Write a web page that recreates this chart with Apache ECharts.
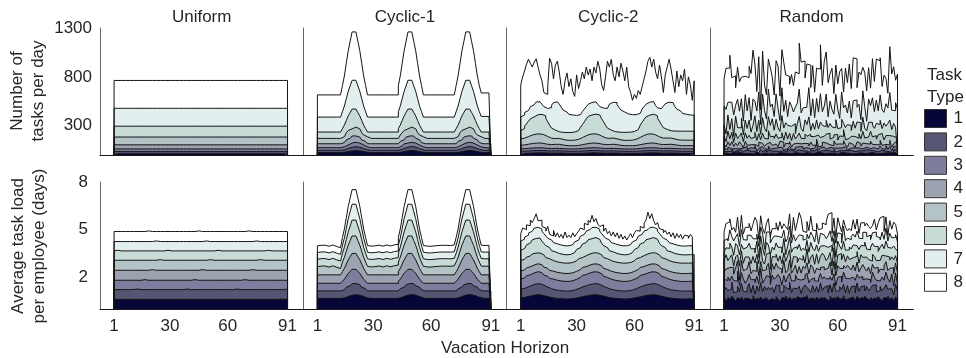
<!DOCTYPE html>
<html>
<head>
<meta charset="utf-8">
<title>Vacation horizon scenarios</title>
<script src="https://cdn.jsdelivr.net/npm/echarts@6/dist/echarts.min.js"></script>
<style>
  html, body { margin: 0; padding: 0; background: #fff; }
  #chart { width: 966px; height: 358px; }
</style>
</head>
<body>
<div id="chart"></div>
<script>
const scenarios = ['Uniform', 'Cyclic-1', 'Cyclic-2', 'Random'];
const taskTypes = ['1', '2', '3', '4', '5', '6', '7', '8'];
const typeColors = ['#060638', '#555674', '#7f7d9e', '#9ca2b0', '#b4c3c6', '#c8dbd7', '#e3eeee', '#ffffff'];
const dayTicks = [1, 30, 60, 91];
const taskTicks = [300, 800, 1300];
const loadTicks = [2, 5, 8];
const days = Array.from({ length: 91 }, (_, i) => i + 1);

// Uniform / Cyclic panels: level k = stacked height of task types 1..k, one value per day

const uniformTasks = [
  [12,12,12,12,12,12,12,12,12,12,12,12,12,
   12,12,12,12,12,12,12,12,12,12,12,12,12,
   12,12,12,12,12,12,12,12,12,12,12,12,12,
   12,12,12,12,12,12,12,12,12,12,12,12,12,
   12,12,12,12,12,12,12,12,12,12,12,12,12,
   12,12,12,12,12,12,12,12,12,12,12,12,12,
   12,12,12,12,12,12,12,12,12,12,12,12,12],
  [35,35,35,35,35,35,35,35,35,35,35,35,35,
   35,35,35,35,35,35,35,35,35,35,35,35,35,
   35,35,35,35,35,35,35,35,35,35,35,35,35,
   35,35,35,35,35,35,35,35,35,35,35,35,35,
   35,35,35,35,35,35,35,35,35,35,35,35,35,
   35,35,35,35,35,35,35,35,35,35,35,35,35,
   35,35,35,35,35,35,35,35,35,35,35,35,35],
  [62,62,62,62,62,62,62,62,62,62,62,62,62,
   62,62,62,62,62,62,62,62,62,62,62,62,62,
   62,62,62,62,62,62,62,62,62,62,62,62,62,
   62,62,62,62,62,62,62,62,62,62,62,62,62,
   62,62,62,62,62,62,62,62,62,62,62,62,62,
   62,62,62,62,62,62,62,62,62,62,62,62,62,
   62,62,62,62,62,62,62,62,62,62,62,62,62],
  [104,104,104,104,104,104,104,104,104,104,104,104,104,
   104,104,104,104,104,104,104,104,104,104,104,104,104,
   104,104,104,104,104,104,104,104,104,104,104,104,104,
   104,104,104,104,104,104,104,104,104,104,104,104,104,
   104,104,104,104,104,104,104,104,104,104,104,104,104,
   104,104,104,104,104,104,104,104,104,104,104,104,104,
   104,104,104,104,104,104,104,104,104,104,104,104,104],
  [184,184,184,184,184,184,184,184,184,184,184,184,184,
   184,184,184,184,184,184,184,184,184,184,184,184,184,
   184,184,184,184,184,184,184,184,184,184,184,184,184,
   184,184,184,184,184,184,184,184,184,184,184,184,184,
   184,184,184,184,184,184,184,184,184,184,184,184,184,
   184,184,184,184,184,184,184,184,184,184,184,184,184,
   184,184,184,184,184,184,184,184,184,184,184,184,184],
  [295,295,295,295,295,295,295,295,295,295,295,295,295,
   295,295,295,295,295,295,295,295,295,295,295,295,295,
   295,295,295,295,295,295,295,295,295,295,295,295,295,
   295,295,295,295,295,295,295,295,295,295,295,295,295,
   295,295,295,295,295,295,295,295,295,295,295,295,295,
   295,295,295,295,295,295,295,295,295,295,295,295,295,
   295,295,295,295,295,295,295,295,295,295,295,295,295],
  [478,478,478,478,478,478,478,478,478,478,478,478,478,
   478,478,478,478,478,478,478,478,478,478,478,478,478,
   478,478,478,478,478,478,478,478,478,478,478,478,478,
   478,478,478,478,478,478,478,478,478,478,478,478,478,
   478,478,478,478,478,478,478,478,478,478,478,478,478,
   478,478,478,478,478,478,478,478,478,478,478,478,478,
   478,478,478,478,478,478,478,478,478,478,478,478,478],
  [763,763,763,763,763,763,763,763,763,763,763,763,763,
   763,763,763,763,763,763,763,763,763,763,763,763,763,
   763,763,763,763,763,763,763,763,763,763,763,763,763,
   763,763,763,763,763,763,763,763,763,763,763,763,763,
   763,763,763,763,763,763,763,763,763,763,763,763,763,
   763,763,763,763,763,763,763,763,763,763,763,763,763,
   763,763,763,763,763,763,763,763,763,763,763,763,763]
];

const cyclic1Tasks = [
  [25,25,25,25,25,25,25,25,25,25,25,25,25,
   28,31,35,39,42,45,45,45,42,39,35,31,28,
   25,25,25,25,25,25,25,25,25,25,25,25,25,
   25,25,25,28,31,35,39,42,45,45,45,42,39,
   35,31,28,25,25,25,25,25,25,25,25,25,25,
   25,25,25,25,25,25,25,28,31,35,39,42,45,
   45,45,42,39,35,31,28,25,25,25,25,25,25],
  [48,48,48,48,48,48,48,48,48,48,48,48,48,
   54,59,67,74,79,85,85,85,79,74,67,59,54,
   48,48,48,48,48,48,48,48,48,48,48,48,48,
   48,48,48,54,59,67,74,79,85,85,85,79,74,
   67,59,54,48,48,48,48,48,48,48,48,48,48,
   48,48,48,48,48,48,48,54,59,67,74,79,85,
   85,85,79,74,67,59,54,48,48,48,48,48,48],
  [75,75,75,75,75,75,75,75,75,75,75,75,75,
   83,92,103,114,122,130,130,130,122,114,103,92,83,
   75,75,75,75,75,75,75,75,75,75,75,75,75,
   75,75,75,83,92,103,114,122,130,130,130,122,114,
   103,92,83,75,75,75,75,75,75,75,75,75,75,
   75,75,75,75,75,75,75,83,92,103,114,122,130,
   130,130,122,114,103,92,83,75,75,75,75,75,75],
  [115,115,115,115,115,115,115,115,115,115,115,115,115,
   127,139,155,171,183,195,195,195,183,171,155,139,127,
   115,115,115,115,115,115,115,115,115,115,115,115,115,
   115,115,115,127,139,155,171,183,195,195,195,183,171,
   155,139,127,115,115,115,115,115,115,115,115,115,115,
   115,115,115,115,115,115,115,127,139,155,171,183,195,
   195,195,183,171,155,139,127,115,115,115,115,115,115],
  [170,170,170,170,170,170,170,170,170,170,170,170,170,
   187,205,228,251,268,285,285,285,268,251,228,205,187,
   170,170,170,170,170,170,170,170,170,170,170,170,170,
   170,170,170,187,205,228,251,268,285,285,285,268,251,
   228,205,187,170,170,170,170,170,170,170,170,170,170,
   170,170,170,170,170,170,170,187,205,228,251,268,285,
   285,285,268,251,228,205,187,170,170,170,170,170,170],
  [235,235,235,235,235,235,235,235,235,235,235,235,235,
   270,306,353,400,435,470,470,470,435,400,353,306,270,
   235,235,235,235,235,235,235,235,235,235,235,235,235,
   235,235,235,270,306,353,400,435,470,470,470,435,400,
   353,306,270,235,235,235,235,235,235,235,235,235,235,
   235,235,235,235,235,235,235,270,306,353,400,435,470,
   470,470,435,400,353,306,270,235,235,235,235,235,235],
  [388,388,388,388,388,388,388,388,388,388,388,388,388,
   445,501,577,652,708,765,765,765,708,652,577,501,445,
   388,388,388,388,388,388,388,388,388,388,388,388,388,
   388,388,388,445,501,577,652,708,765,765,765,708,652,
   577,501,445,388,388,388,388,388,388,388,388,388,388,
   388,388,388,388,388,388,388,445,501,577,652,708,765,
   765,765,708,652,577,501,445,395,395,395,395,395,395],
  [615,615,615,615,615,615,615,615,615,615,615,615,615,
   712,809,938,1067,1163,1260,1260,1260,1163,1067,938,809,712,
   615,615,615,615,615,615,615,615,615,615,615,615,615,
   615,615,615,712,809,938,1067,1163,1260,1260,1260,1163,1067,
   938,809,712,615,615,615,615,615,615,615,615,615,615,
   615,615,615,615,615,615,615,712,809,938,1067,1163,1260,
   1260,1260,1163,1067,938,809,712,635,635,635,635,635,635]
];

const cyclic2Tasks = [
  [17,17,18,18,19,20,20,21,21,22,22,21,21,
   20,19,19,19,19,20,20,19,19,18,17,17,16,
   16,16,16,17,17,18,19,19,20,21,21,22,22,
   21,21,20,19,19,19,19,20,20,19,19,18,17,
   17,16,16,16,16,16,16,17,17,18,19,19,20,
   21,21,22,22,21,21,20,19,19,19,19,20,20,
   19,19,18,18,17,17,16,16,16,16,16,16,16],
  [40,40,41,42,43,44,45,45,46,46,46,45,44,
   43,42,42,42,43,43,43,42,41,40,39,38,38,
   38,38,38,39,40,41,42,43,44,45,46,46,46,
   45,44,43,42,42,42,42,43,43,42,41,40,39,
   39,38,38,38,38,38,38,39,40,41,42,43,44,
   45,46,46,46,45,44,43,42,42,42,43,43,43,
   42,41,40,39,39,38,38,38,38,38,38,38,38],
  [64,65,67,68,70,71,72,73,74,74,73,72,70,
   68,67,66,67,68,68,67,66,65,64,63,62,62,
   62,62,63,64,65,67,69,71,72,73,74,74,74,
   73,71,69,68,67,67,67,68,68,67,66,64,63,
   63,62,62,62,62,62,63,64,65,67,69,71,72,
   73,74,74,74,73,71,69,68,67,67,68,68,68,
   67,66,65,64,63,63,63,63,63,63,63,63,63],
  [100,103,107,110,114,117,120,122,123,123,121,118,114,
   110,107,106,107,109,110,109,106,102,99,97,96,95,
   95,95,96,98,101,105,109,113,117,120,122,123,122,
   120,116,112,109,107,106,107,109,110,109,106,102,99,
   97,96,95,95,95,95,96,98,101,105,109,113,117,
   120,122,123,122,119,115,111,108,107,107,108,110,110,
   108,105,102,99,97,96,96,96,96,96,96,96,96],
  [165,172,180,188,196,204,210,214,216,216,214,208,200,
   190,180,172,168,168,170,170,166,160,155,152,150,150,
   150,152,155,160,168,178,188,198,206,212,216,217,216,
   212,204,194,184,176,172,170,172,174,172,166,160,155,
   152,150,150,150,150,152,156,162,170,180,190,200,208,
   214,217,217,214,206,196,186,178,173,172,174,176,174,
   170,164,158,155,153,152,152,152,152,152,152,152,152],
  [250,270,295,320,345,370,390,405,412,416,416,412,400,
   375,340,305,275,255,245,238,234,232,232,230,230,230,
   232,235,240,250,265,285,310,340,370,395,410,416,418,
   416,410,395,370,340,305,275,255,245,240,236,234,232,
   232,232,232,232,234,236,240,248,260,280,305,335,365,
   390,408,416,418,414,400,375,345,310,280,262,252,248,
   246,245,244,244,244,244,244,244,244,244,244,244,244],
  [390,410,435,455,475,495,515,530,543,545,540,520,495,
   477,473,485,510,535,545,540,520,490,460,440,425,415,
   410,407,405,407,413,425,445,470,495,520,537,545,545,
   540,520,495,480,475,477,495,520,540,545,537,515,485,
   460,440,427,420,415,413,411,413,417,427,445,470,495,
   520,540,550,547,530,505,483,475,480,500,525,540,543,
   537,520,495,470,450,435,425,417,413,410,408,407,407],
  [720,800,860,930,980,940,900,950,985,900,820,760,640,
   620,700,990,940,780,920,960,850,700,620,760,840,700,
   780,650,600,820,680,760,850,780,900,820,880,760,900,
   840,960,880,720,660,800,960,900,980,820,760,900,800,
   940,860,760,900,700,640,560,620,580,660,620,700,780,
   860,960,1000,900,980,850,780,920,800,640,820,900,980,
   880,760,640,860,700,820,760,880,620,800,720,560,760]
];

const uniformLoad = [
  [0.61,0.61,0.61,0.61,0.61,0.61,0.61,0.61,0.61,0.61,0.61,0.61,0.61,
   0.61,0.61,0.61,0.61,0.61,0.61,0.61,0.61,0.61,0.61,0.61,0.61,0.61,
   0.61,0.61,0.61,0.61,0.61,0.61,0.61,0.61,0.61,0.61,0.61,0.61,0.61,
   0.61,0.61,0.61,0.61,0.61,0.61,0.61,0.61,0.61,0.61,0.61,0.61,0.61,
   0.61,0.61,0.61,0.61,0.61,0.61,0.61,0.61,0.61,0.61,0.61,0.61,0.61,
   0.61,0.61,0.61,0.61,0.61,0.61,0.61,0.61,0.61,0.61,0.61,0.61,0.61,
   0.61,0.61,0.61,0.61,0.61,0.61,0.61,0.61,0.61,0.61,0.61,0.61,0.61],
  [1.22,1.22,1.22,1.22,1.22,1.22,1.22,1.22,1.22,1.22,1.22,1.26,1.22,
   1.22,1.22,1.22,1.22,1.22,1.22,1.22,1.22,1.22,1.22,1.22,1.26,1.22,
   1.22,1.22,1.22,1.22,1.22,1.22,1.22,1.22,1.22,1.22,1.22,1.26,1.22,
   1.22,1.22,1.22,1.22,1.22,1.22,1.22,1.22,1.22,1.22,1.22,1.26,1.22,
   1.22,1.22,1.22,1.22,1.22,1.22,1.22,1.22,1.22,1.22,1.22,1.26,1.22,
   1.22,1.22,1.22,1.22,1.22,1.22,1.22,1.22,1.22,1.22,1.22,1.26,1.22,
   1.22,1.22,1.22,1.22,1.22,1.22,1.22,1.22,1.22,1.22,1.22,1.26,1.22],
  [1.81,1.81,1.85,1.81,1.81,1.81,1.81,1.81,1.81,1.81,1.81,1.81,1.81,
   1.81,1.81,1.85,1.81,1.81,1.81,1.81,1.81,1.81,1.81,1.81,1.81,1.81,
   1.81,1.81,1.85,1.81,1.81,1.81,1.81,1.81,1.81,1.81,1.81,1.81,1.81,
   1.81,1.81,1.85,1.81,1.81,1.81,1.81,1.81,1.81,1.81,1.81,1.81,1.81,
   1.81,1.81,1.85,1.81,1.81,1.81,1.81,1.81,1.81,1.81,1.81,1.81,1.81,
   1.81,1.81,1.85,1.81,1.81,1.81,1.81,1.81,1.81,1.81,1.81,1.81,1.81,
   1.81,1.81,1.85,1.81,1.81,1.81,1.81,1.81,1.81,1.81,1.81,1.81,1.81],
  [2.44,2.44,2.44,2.44,2.44,2.44,2.48,2.44,2.44,2.44,2.44,2.44,2.44,
   2.44,2.44,2.44,2.44,2.44,2.44,2.48,2.44,2.44,2.44,2.44,2.44,2.44,
   2.44,2.44,2.44,2.44,2.44,2.44,2.48,2.44,2.44,2.44,2.44,2.44,2.44,
   2.44,2.44,2.44,2.44,2.44,2.44,2.48,2.44,2.44,2.44,2.44,2.44,2.44,
   2.44,2.44,2.44,2.44,2.44,2.44,2.48,2.44,2.44,2.44,2.44,2.44,2.44,
   2.44,2.44,2.44,2.44,2.44,2.44,2.48,2.44,2.44,2.44,2.44,2.44,2.44,
   2.44,2.44,2.44,2.44,2.44,2.44,2.48,2.44,2.44,2.44,2.44,2.44,2.44],
  [3.07,3.07,3.07,3.07,3.07,3.07,3.07,3.07,3.07,3.07,3.11,3.07,3.07,
   3.07,3.07,3.07,3.07,3.07,3.07,3.07,3.07,3.07,3.07,3.11,3.07,3.07,
   3.07,3.07,3.07,3.07,3.07,3.07,3.07,3.07,3.07,3.07,3.11,3.07,3.07,
   3.07,3.07,3.07,3.07,3.07,3.07,3.07,3.07,3.07,3.07,3.11,3.07,3.07,
   3.07,3.07,3.07,3.07,3.07,3.07,3.07,3.07,3.07,3.07,3.11,3.07,3.07,
   3.07,3.07,3.07,3.07,3.07,3.07,3.07,3.07,3.07,3.07,3.11,3.07,3.07,
   3.07,3.07,3.07,3.07,3.07,3.07,3.07,3.07,3.07,3.07,3.11,3.07,3.07],
  [3.66,3.70,3.66,3.66,3.66,3.66,3.66,3.66,3.66,3.66,3.66,3.66,3.66,
   3.66,3.70,3.66,3.66,3.66,3.66,3.66,3.66,3.66,3.66,3.66,3.66,3.66,
   3.66,3.70,3.66,3.66,3.66,3.66,3.66,3.66,3.66,3.66,3.66,3.66,3.66,
   3.66,3.70,3.66,3.66,3.66,3.66,3.66,3.66,3.66,3.66,3.66,3.66,3.66,
   3.66,3.70,3.66,3.66,3.66,3.66,3.66,3.66,3.66,3.66,3.66,3.66,3.66,
   3.66,3.70,3.66,3.66,3.66,3.66,3.66,3.66,3.66,3.66,3.66,3.66,3.66,
   3.66,3.70,3.66,3.66,3.66,3.66,3.66,3.66,3.66,3.66,3.66,3.66,3.66],
  [4.25,4.25,4.25,4.25,4.25,4.25,4.25,4.25,4.29,4.25,4.25,4.25,4.25,
   4.25,4.25,4.25,4.25,4.25,4.25,4.25,4.25,4.29,4.25,4.25,4.25,4.25,
   4.25,4.25,4.25,4.25,4.25,4.25,4.25,4.25,4.29,4.25,4.25,4.25,4.25,
   4.25,4.25,4.25,4.25,4.25,4.25,4.25,4.25,4.29,4.25,4.25,4.25,4.25,
   4.25,4.25,4.25,4.25,4.25,4.25,4.25,4.25,4.29,4.25,4.25,4.25,4.25,
   4.25,4.25,4.25,4.25,4.25,4.25,4.25,4.25,4.29,4.25,4.25,4.25,4.25,
   4.25,4.25,4.25,4.25,4.25,4.25,4.25,4.25,4.29,4.25,4.25,4.25,4.25],
  [4.88,4.88,4.88,4.88,4.92,4.88,4.88,4.88,4.88,4.88,4.88,4.88,4.88,
   4.88,4.88,4.88,4.88,4.92,4.88,4.88,4.88,4.88,4.88,4.88,4.88,4.88,
   4.88,4.88,4.88,4.88,4.92,4.88,4.88,4.88,4.88,4.88,4.88,4.88,4.88,
   4.88,4.88,4.88,4.88,4.92,4.88,4.88,4.88,4.88,4.88,4.88,4.88,4.88,
   4.88,4.88,4.88,4.88,4.92,4.88,4.88,4.88,4.88,4.88,4.88,4.88,4.88,
   4.88,4.88,4.88,4.88,4.92,4.88,4.88,4.88,4.88,4.88,4.88,4.88,4.88,
   4.88,4.88,4.88,4.88,4.92,4.88,4.88,4.88,4.88,4.88,4.88,4.88,4.88]
];

const cyclic1Load = [
  [0.67,0.67,0.67,0.67,0.67,0.67,0.67,0.67,0.67,0.67,0.67,0.67,0.67,
   0.70,0.74,0.79,0.83,0.87,0.90,0.90,0.90,0.87,0.83,0.79,0.74,0.70,
   0.67,0.67,0.67,0.67,0.67,0.67,0.67,0.67,0.67,0.67,0.67,0.67,0.67,
   0.67,0.67,0.67,0.70,0.74,0.79,0.83,0.87,0.90,0.90,0.90,0.87,0.83,
   0.79,0.74,0.70,0.67,0.67,0.67,0.67,0.67,0.67,0.67,0.67,0.67,0.67,
   0.67,0.67,0.67,0.67,0.67,0.67,0.67,0.70,0.74,0.79,0.83,0.87,0.90,
   0.90,0.90,0.87,0.83,0.79,0.74,0.70,0.67,0.67,0.67,0.67,0.67,0.67],
  [1.14,1.14,1.14,1.14,1.14,1.14,1.14,1.14,1.14,1.14,1.14,1.14,1.14,
   1.21,1.28,1.37,1.46,1.53,1.60,1.60,1.60,1.53,1.46,1.37,1.28,1.21,
   1.14,1.14,1.14,1.14,1.14,1.14,1.14,1.14,1.14,1.14,1.14,1.14,1.14,
   1.14,1.14,1.14,1.21,1.28,1.37,1.46,1.53,1.60,1.60,1.60,1.53,1.46,
   1.37,1.28,1.21,1.14,1.14,1.14,1.14,1.14,1.14,1.14,1.14,1.14,1.14,
   1.14,1.14,1.14,1.14,1.14,1.14,1.14,1.21,1.28,1.37,1.46,1.53,1.60,
   1.60,1.60,1.53,1.46,1.37,1.28,1.21,1.14,1.14,1.14,1.14,1.14,1.14],
  [1.62,1.62,1.62,1.62,1.62,1.62,1.62,1.62,1.62,1.62,1.62,1.62,1.62,
   1.75,1.88,2.06,2.24,2.37,2.50,2.50,2.50,2.37,2.24,2.06,1.88,1.75,
   1.62,1.62,1.62,1.62,1.62,1.62,1.62,1.62,1.62,1.62,1.62,1.62,1.62,
   1.62,1.62,1.62,1.75,1.88,2.06,2.24,2.37,2.50,2.50,2.50,2.37,2.24,
   2.06,1.88,1.75,1.62,1.62,1.62,1.62,1.62,1.62,1.62,1.62,1.62,1.62,
   1.62,1.62,1.62,1.62,1.62,1.62,1.62,1.75,1.88,2.06,2.24,2.37,2.50,
   2.50,2.50,2.37,2.24,2.06,1.88,1.75,1.62,1.62,1.62,1.62,1.62,1.62],
  [2.15,2.15,2.15,2.15,2.15,2.15,2.15,2.15,2.15,2.15,2.15,2.15,2.15,
   2.35,2.56,2.83,3.10,3.30,3.50,3.50,3.50,3.30,3.10,2.83,2.56,2.35,
   2.15,2.15,2.15,2.15,2.15,2.15,2.15,2.15,2.15,2.15,2.15,2.15,2.15,
   2.15,2.15,2.15,2.35,2.56,2.83,3.10,3.30,3.50,3.50,3.50,3.30,3.10,
   2.83,2.56,2.35,2.15,2.15,2.15,2.15,2.15,2.15,2.15,2.15,2.15,2.15,
   2.15,2.15,2.15,2.15,2.15,2.15,2.15,2.35,2.56,2.83,3.10,3.30,3.50,
   3.50,3.50,3.30,3.10,2.83,2.56,2.35,2.15,2.15,2.15,2.15,2.15,2.15],
  [2.67,2.70,2.65,2.71,2.67,2.64,2.69,2.72,2.67,2.63,2.55,2.55,2.59,
   2.96,3.25,3.64,4.02,4.31,4.60,4.60,4.60,4.31,4.02,3.64,3.25,2.96,
   2.69,2.65,2.70,2.67,2.64,2.71,2.68,2.65,2.70,2.72,2.69,2.66,2.71,
   2.73,2.75,2.77,2.96,3.25,3.64,4.02,4.31,4.60,4.60,4.60,4.31,4.02,
   3.64,3.25,2.96,2.69,2.65,2.68,2.64,2.70,2.67,2.65,2.69,2.66,2.70,
   2.67,2.70,2.65,2.69,2.71,2.72,2.73,2.96,3.25,3.64,4.02,4.31,4.60,
   4.60,4.60,4.31,4.02,3.64,3.25,2.96,2.71,2.69,2.72,2.70,2.71,2.71],
  [3.14,3.17,3.12,3.18,3.14,3.11,3.16,3.19,3.14,3.10,3.02,3.02,3.06,
   3.51,3.88,4.37,4.86,5.23,5.60,5.60,5.60,5.23,4.86,4.37,3.88,3.51,
   3.16,3.12,3.17,3.14,3.11,3.18,3.15,3.12,3.17,3.19,3.16,3.13,3.18,
   3.20,3.22,3.24,3.51,3.88,4.37,4.86,5.23,5.60,5.60,5.60,5.23,4.86,
   4.37,3.88,3.51,3.16,3.12,3.15,3.11,3.17,3.14,3.12,3.16,3.13,3.17,
   3.14,3.17,3.12,3.16,3.18,3.19,3.20,3.51,3.88,4.37,4.86,5.23,5.60,
   5.60,5.60,5.23,4.86,4.37,3.88,3.51,3.18,3.16,3.19,3.17,3.18,3.18],
  [3.56,3.59,3.54,3.60,3.56,3.53,3.58,3.61,3.56,3.52,3.44,3.44,3.48,
   4.02,4.47,5.08,5.69,6.14,6.60,6.60,6.60,6.14,5.69,5.08,4.47,4.02,
   3.58,3.54,3.59,3.56,3.53,3.60,3.57,3.54,3.59,3.61,3.58,3.55,3.60,
   3.62,3.64,3.66,4.02,4.47,5.08,5.69,6.14,6.60,6.60,6.60,6.14,5.69,
   5.08,4.47,4.02,3.58,3.54,3.57,3.53,3.59,3.56,3.54,3.58,3.55,3.59,
   3.56,3.59,3.54,3.58,3.60,3.61,3.62,4.02,4.47,5.08,5.69,6.14,6.60,
   6.60,6.60,6.14,5.69,5.08,4.47,4.02,3.60,3.58,3.61,3.59,3.60,3.60],
  [3.98,4.01,3.96,4.02,3.98,3.95,4.00,4.03,3.98,3.94,3.86,3.86,3.90,
   4.51,5.04,5.75,6.46,6.99,7.52,7.52,7.52,6.99,6.46,5.75,5.04,4.51,
   4.00,3.96,4.01,3.98,3.95,4.02,3.99,3.96,4.01,4.03,4.00,3.97,4.02,
   4.04,4.06,4.08,4.51,5.04,5.75,6.46,6.99,7.52,7.52,7.52,6.99,6.46,
   5.75,5.04,4.51,4.00,3.96,3.99,3.95,4.01,3.98,3.96,4.00,3.97,4.01,
   3.98,4.01,3.96,4.00,4.02,4.03,4.04,4.51,5.04,5.75,6.46,6.99,7.52,
   7.52,7.52,6.99,6.46,5.75,5.04,4.51,4.02,4.00,4.03,4.01,4.02,4.02]
];

const cyclic2Load = [
  [0.70,0.73,0.76,0.79,0.82,0.84,0.87,0.89,0.90,0.89,0.87,0.84,0.81,
   0.78,0.75,0.72,0.70,0.68,0.67,0.66,0.65,0.64,0.64,0.63,0.64,0.64,
   0.65,0.67,0.69,0.72,0.75,0.77,0.80,0.82,0.85,0.87,0.88,0.89,0.90,
   0.89,0.87,0.84,0.81,0.78,0.75,0.72,0.70,0.68,0.67,0.66,0.65,0.64,
   0.64,0.63,0.64,0.64,0.65,0.67,0.69,0.72,0.75,0.77,0.80,0.82,0.85,
   0.87,0.88,0.89,0.90,0.89,0.87,0.84,0.81,0.78,0.75,0.72,0.70,0.68,
   0.67,0.66,0.65,0.64,0.64,0.63,0.63,0.63,0.64,0.64,0.64,0.64,0.64],
  [1.25,1.30,1.35,1.40,1.45,1.50,1.54,1.58,1.60,1.59,1.55,1.50,1.44,
   1.38,1.33,1.28,1.24,1.21,1.19,1.17,1.15,1.14,1.13,1.13,1.13,1.14,
   1.16,1.19,1.23,1.28,1.33,1.38,1.42,1.47,1.51,1.54,1.57,1.59,1.60,
   1.59,1.55,1.50,1.44,1.38,1.33,1.28,1.24,1.21,1.19,1.17,1.15,1.14,
   1.13,1.13,1.13,1.14,1.16,1.19,1.23,1.28,1.33,1.38,1.42,1.47,1.51,
   1.54,1.57,1.59,1.60,1.59,1.55,1.50,1.44,1.38,1.33,1.28,1.24,1.21,
   1.19,1.17,1.15,1.14,1.13,1.13,1.13,1.13,1.13,1.13,1.14,1.14,1.14],
  [1.90,1.96,2.03,2.09,2.16,2.22,2.27,2.32,2.35,2.33,2.29,2.22,2.14,
   2.06,1.99,1.93,1.88,1.84,1.81,1.78,1.77,1.75,1.74,1.73,1.74,1.75,
   1.78,1.82,1.87,1.93,1.99,2.06,2.12,2.17,2.23,2.27,2.31,2.34,2.35,
   2.33,2.29,2.22,2.14,2.06,1.99,1.93,1.88,1.84,1.81,1.78,1.77,1.75,
   1.74,1.73,1.74,1.75,1.78,1.82,1.87,1.93,1.99,2.06,2.12,2.17,2.23,
   2.27,2.31,2.34,2.35,2.33,2.29,2.22,2.14,2.06,1.99,1.93,1.88,1.84,
   1.81,1.78,1.77,1.75,1.74,1.73,1.73,1.73,1.74,1.74,1.75,1.75,1.75],
  [2.40,2.46,2.53,2.59,2.66,2.72,2.77,2.82,2.85,2.83,2.79,2.72,2.64,
   2.56,2.49,2.43,2.38,2.34,2.31,2.28,2.27,2.25,2.24,2.23,2.24,2.25,
   2.28,2.32,2.37,2.43,2.49,2.56,2.62,2.67,2.73,2.77,2.81,2.84,2.85,
   2.83,2.79,2.72,2.64,2.56,2.49,2.43,2.38,2.34,2.31,2.28,2.27,2.25,
   2.24,2.23,2.24,2.25,2.28,2.32,2.37,2.43,2.49,2.56,2.62,2.67,2.73,
   2.77,2.81,2.84,2.85,2.83,2.79,2.72,2.64,2.56,2.49,2.43,2.38,2.34,
   2.31,2.28,2.27,2.25,2.24,2.23,2.23,2.23,2.24,2.24,2.25,2.25,2.25],
  [3.06,3.13,3.20,3.27,3.34,3.41,3.47,3.52,3.55,3.53,3.48,3.41,3.33,
   3.24,3.17,3.10,3.05,3.00,2.97,2.94,2.92,2.91,2.89,2.89,2.89,2.91,
   2.93,2.98,3.03,3.10,3.17,3.24,3.30,3.36,3.42,3.47,3.51,3.54,3.55,
   3.53,3.48,3.41,3.33,3.24,3.17,3.10,3.05,3.00,2.97,2.94,2.92,2.91,
   2.89,2.89,2.89,2.91,2.93,2.98,3.03,3.10,3.17,3.24,3.30,3.36,3.42,
   3.47,3.51,3.54,3.55,3.53,3.48,3.41,3.33,3.24,3.17,3.10,3.05,3.00,
   2.97,2.94,2.92,2.91,2.89,2.89,2.89,2.89,2.89,2.89,2.90,2.90,2.90],
  [3.70,3.81,3.93,4.04,4.16,4.27,4.36,4.44,4.50,4.47,4.39,4.27,4.13,
   3.99,3.87,3.76,3.67,3.60,3.55,3.50,3.47,3.44,3.42,3.41,3.42,3.44,
   3.49,3.56,3.65,3.75,3.87,3.98,4.09,4.19,4.28,4.36,4.43,4.48,4.50,
   4.47,4.39,4.27,4.13,3.99,3.87,3.76,3.67,3.60,3.55,3.50,3.47,3.44,
   3.42,3.41,3.42,3.44,3.49,3.56,3.65,3.75,3.87,3.98,4.09,4.19,4.28,
   4.36,4.43,4.48,4.50,4.47,4.39,4.27,4.13,3.99,3.87,3.76,3.67,3.60,
   3.55,3.50,3.47,3.44,3.42,3.41,3.41,3.41,3.42,3.42,3.43,3.43,3.43],
  [4.28,4.40,4.53,4.65,4.78,4.90,5.00,5.09,5.15,5.11,5.03,4.90,4.75,
   4.60,4.46,4.35,4.25,4.18,4.11,4.06,4.03,4.00,3.98,3.96,3.98,4.00,
   4.05,4.13,4.23,4.34,4.46,4.59,4.70,4.81,4.91,5.00,5.08,5.13,5.15,
   5.11,5.03,4.90,4.75,4.60,4.46,4.35,4.25,4.18,4.11,4.06,4.03,4.00,
   3.98,3.96,3.98,4.00,4.05,4.13,4.23,4.34,4.46,4.59,4.70,4.81,4.91,
   5.00,5.08,5.13,5.15,5.11,5.03,4.90,4.75,4.60,4.46,4.35,4.25,4.18,
   4.11,4.06,4.03,4.00,3.98,3.96,3.96,3.96,3.98,3.98,3.99,3.99,3.99],
  [4.75,5.10,5.00,5.30,5.25,5.60,5.45,5.70,6.00,5.55,5.60,5.20,5.10,
   4.90,5.20,4.70,4.60,4.95,4.55,4.80,4.50,4.70,4.45,4.85,4.50,4.65,
   4.50,4.80,4.55,4.75,4.90,5.10,5.00,5.40,5.30,5.60,5.45,5.90,5.50,
   5.70,5.35,5.20,5.30,4.90,5.10,4.75,4.90,4.60,4.85,4.55,4.80,4.45,
   4.70,4.40,4.60,4.35,4.55,4.75,4.50,4.80,4.95,4.90,5.20,5.10,5.40,
   5.60,6.10,5.70,6.00,5.55,5.30,5.45,5.05,5.00,4.80,4.95,4.70,4.85,
   4.55,4.80,4.45,4.75,4.50,4.70,4.40,4.65,4.60,4.45,4.70,4.55,4.50]
];

// Random panels: value of each task type on its own (stacked below)

const randomTasks = [
  [14,22,9,17,26,12,19,7,24,15,11,20,16,
   23,10,18,27,13,8,21,16,25,11,19,14,22,
   9,17,24,13,20,6,18,26,12,15,23,10,19,
   21,14,8,25,16,11,22,18,9,27,13,20,15,
   12,24,17,10,19,23,7,16,26,14,21,9,18,
   25,11,20,15,8,22,17,13,24,19,10,27,14,
   16,21,12,26,18,9,23,14,20,11,25,17,13],
  [25,14,31,20,36,17,28,12,33,22,18,30,24,
   15,34,21,27,11,29,37,19,24,13,32,26,18,
   30,20,13,35,23,28,16,31,38,21,14,27,33,
   19,29,36,16,25,12,33,22,28,35,17,24,30,
   34,18,26,31,14,37,21,27,11,30,23,36,20,
   22,32,15,28,35,19,26,13,31,24,37,16,29,
   27,12,33,23,17,30,36,20,25,14,29,34,21],
  [30,18,40,25,14,35,28,44,20,33,24,38,16,
   36,22,29,43,17,31,26,39,13,34,41,21,27,
   19,37,24,32,45,15,30,23,38,27,16,42,33,
   28,41,17,35,22,39,14,31,26,44,20,29,37,
   42,16,33,21,38,27,43,18,34,23,40,25,15,
   23,34,39,14,29,36,20,42,25,31,17,38,32,
   35,26,15,40,31,19,37,24,43,18,33,28,22],
  [42,28,55,36,61,24,47,33,58,39,20,51,45,
   30,57,40,22,49,63,35,44,26,53,38,60,31,
   54,37,25,62,43,29,56,34,48,19,59,41,27,
   46,23,58,38,52,31,64,27,40,55,33,21,50,
   35,60,29,47,24,57,39,52,30,45,62,37,26,
   57,32,49,21,63,41,28,54,36,24,48,59,34,
   28,53,43,60,33,50,22,45,61,38,27,56,40],
  [80,55,110,68,95,42,102,74,58,117,63,88,71,
   98,46,76,112,60,90,38,105,82,52,118,67,93,
   57,104,85,40,97,73,115,50,88,66,108,45,79,
   111,64,48,100,77,119,56,92,70,43,106,84,61,
   72,96,116,53,87,62,101,39,94,78,113,49,90,
   45,83,67,108,36,99,75,120,58,86,64,103,77,
   92,51,105,71,114,47,81,96,60,110,69,40,98],
  [120,80,165,95,140,60,175,110,85,150,70,130,100,
   155,65,120,170,90,135,55,160,105,75,145,115,180,
   85,150,110,60,175,125,95,140,70,165,100,55,130,
   170,100,75,145,120,178,62,135,90,155,80,160,110,
   95,140,60,160,105,72,150,118,85,176,65,125,142,
   130,58,155,88,168,112,76,145,100,62,158,92,120,
   75,160,105,135,58,172,96,124,150,68,140,110,85],
  [190,250,130,280,160,220,110,290,170,200,140,260,180,
   230,120,270,150,210,290,100,240,180,130,280,190,150,
   140,260,200,110,285,170,230,90,250,190,120,270,210,
   280,160,240,130,200,300,150,250,120,220,170,290,140,
   210,270,110,230,180,140,260,200,95,280,160,230,120,
   250,130,210,290,150,190,120,270,220,100,240,170,280,
   170,240,140,260,190,110,230,160,280,200,130,250,190],
  [280,420,350,480,260,400,180,330,300,220,460,190,340,
   320,480,500,380,200,360,150,440,260,250,310,400,280,
   220,340,430,250,390,500,260,410,180,320,270,360,300,
   470,520,480,300,420,230,290,340,260,310,440,500,270,
   460,430,350,280,420,210,300,260,480,240,160,380,310,
   380,300,440,420,200,330,460,240,350,310,320,180,400,
   310,420,510,380,240,380,260,150,470,370,450,230,360]
];

const randomLoad = [
  [0.62,0.55,0.74,0.58,0.80,0.66,0.50,0.71,0.60,0.77,0.53,0.69,0.64,
   0.72,0.57,0.83,0.61,0.67,0.52,0.75,0.59,0.70,0.79,0.54,0.65,0.73,
   0.56,0.78,0.63,0.48,0.71,0.68,0.82,0.55,0.74,0.60,0.69,0.51,0.77,
   0.67,0.58,0.76,0.62,0.85,0.54,0.70,0.64,0.49,0.75,0.61,0.73,0.57,
   0.74,0.60,0.53,0.80,0.65,0.71,0.52,0.78,0.62,0.68,0.84,0.56,0.66,
   0.59,0.75,0.68,0.50,0.79,0.63,0.72,0.57,0.81,0.66,0.54,0.74,0.61,
   0.70,0.55,0.77,0.64,0.51,0.73,0.67,0.80,0.58,0.71,0.53,0.76,0.62],
  [0.55,0.80,0.42,0.68,0.90,0.35,0.62,0.74,0.48,0.85,0.58,0.38,0.70,
   0.88,0.45,0.66,0.32,0.78,0.60,0.92,0.50,0.72,0.40,0.83,0.56,0.64,
   0.47,0.72,0.86,0.58,0.36,0.81,0.53,0.69,0.94,0.44,0.63,0.77,0.51,
   0.76,0.39,0.61,0.89,0.52,0.70,0.34,0.84,0.57,0.66,0.43,0.91,0.60,
   0.63,0.87,0.49,0.73,0.41,0.93,0.59,0.37,0.79,0.54,0.71,0.46,0.82,
   0.40,0.65,0.77,0.51,0.85,0.48,0.68,0.90,0.33,0.75,0.61,0.56,0.88,
   0.82,0.53,0.38,0.79,0.64,0.57,0.86,0.44,0.71,0.62,0.35,0.80,0.50],
  [0.70,0.45,0.85,0.52,0.38,0.78,0.63,0.92,0.41,0.67,0.80,0.55,0.48,
   0.58,0.83,0.36,0.74,0.61,0.47,0.88,0.54,0.42,0.90,0.65,0.33,0.77,
   0.84,0.50,0.68,0.93,0.44,0.62,0.35,0.79,0.57,0.72,0.46,0.87,0.60,
   0.39,0.76,0.55,0.63,0.90,0.41,0.82,0.48,0.71,0.34,0.86,0.59,0.73,
   0.66,0.42,0.89,0.51,0.75,0.58,0.37,0.85,0.64,0.47,0.78,0.92,0.43,
   0.91,0.60,0.46,0.80,0.53,0.87,0.64,0.39,0.76,0.55,0.69,0.35,0.83,
   0.48,0.73,0.61,0.34,0.86,0.52,0.79,0.67,0.40,0.88,0.57,0.71,0.45],
  [0.48,0.72,0.60,0.88,0.55,0.40,0.82,0.66,0.35,0.76,0.50,0.91,0.62,
   0.80,0.37,0.59,0.69,0.93,0.51,0.44,0.78,0.64,0.56,0.86,0.42,0.71,
   0.63,0.89,0.45,0.52,0.74,0.95,0.58,0.38,0.83,0.49,0.70,0.61,0.36,
   0.85,0.53,0.77,0.41,0.64,0.58,0.92,0.69,0.47,0.81,0.55,0.39,0.75,
   0.44,0.68,0.57,0.90,0.33,0.79,0.62,0.73,0.51,0.87,0.40,0.65,0.84,
   0.72,0.46,0.86,0.60,0.78,0.37,0.55,0.94,0.67,0.43,0.80,0.58,0.49,
   0.57,0.81,0.50,0.74,0.45,0.91,0.66,0.52,0.87,0.39,0.76,0.63,0.70],
  [0.66,0.90,0.44,0.58,0.79,0.52,0.71,0.38,0.86,0.62,0.47,0.75,0.83,
   0.41,0.64,0.87,0.55,0.46,0.76,0.92,0.60,0.35,0.81,0.68,0.53,0.45,
   0.78,0.56,0.39,0.84,0.61,0.48,0.73,0.94,0.65,0.37,0.82,0.50,0.69,
   0.53,0.82,0.68,0.36,0.88,0.63,0.49,0.77,0.58,0.91,0.42,0.70,0.86,
   0.89,0.48,0.74,0.62,0.57,0.85,0.40,0.67,0.93,0.55,0.72,0.38,0.60,
   0.50,0.77,0.35,0.91,0.66,0.54,0.83,0.45,0.70,0.88,0.47,0.79,0.63,
   0.74,0.43,0.80,0.55,0.92,0.61,0.39,0.85,0.52,0.68,0.90,0.46,0.59],
  [0.58,0.43,0.77,0.91,0.49,0.68,0.84,0.56,0.72,0.40,0.89,0.61,0.52,
   0.75,0.92,0.50,0.63,0.81,0.39,0.69,0.86,0.55,0.74,0.47,0.94,0.60,
   0.45,0.71,0.88,0.54,0.67,0.90,0.42,0.62,0.78,0.95,0.53,0.66,0.84,
   0.87,0.60,0.46,0.79,0.53,0.72,0.93,0.41,0.85,0.57,0.76,0.64,0.48,
   0.52,0.83,0.69,0.44,0.91,0.59,0.76,0.88,0.47,0.64,0.81,0.73,0.37,
   0.79,0.55,0.92,0.67,0.41,0.86,0.58,0.73,0.94,0.50,0.62,0.85,0.70,
   0.63,0.89,0.57,0.82,0.70,0.46,0.91,0.60,0.75,0.53,0.86,0.44,0.78],
  [0.72,0.58,0.47,0.83,0.66,0.90,0.41,0.77,0.54,0.93,0.60,0.45,0.86,
   0.50,0.79,0.62,0.88,0.44,0.70,0.57,0.91,0.39,0.65,0.82,0.73,0.52,
   0.87,0.42,0.76,0.61,0.92,0.53,0.80,0.48,0.69,0.58,0.85,0.37,0.74,
   0.60,0.94,0.51,0.73,0.39,0.86,0.64,0.79,0.55,0.90,0.46,0.81,0.68,
   0.83,0.56,0.71,0.92,0.63,0.48,0.88,0.52,0.77,0.41,0.95,0.60,0.75,
   0.46,0.80,0.68,0.54,0.89,0.71,0.43,0.85,0.62,0.78,0.93,0.50,0.66,
   0.91,0.64,0.85,0.47,0.76,0.59,0.82,0.40,0.94,0.67,0.55,0.88,0.58],
  [0.55,0.95,1.20,0.70,0.40,0.85,0.30,1.05,0.60,0.90,0.35,0.80,0.50,
   0.75,0.35,0.90,1.35,0.85,0.45,0.70,0.30,1.00,0.55,0.85,0.40,0.65,
   0.45,0.85,0.30,1.00,0.60,0.40,0.95,0.55,0.80,0.35,1.10,0.65,0.95,
   1.40,1.10,0.55,0.40,0.80,0.50,1.00,0.35,0.70,0.45,0.90,0.30,0.75,
   0.60,1.05,1.35,1.15,0.50,0.80,0.35,0.95,0.55,0.70,0.40,0.85,0.45,
   0.70,0.35,0.90,0.50,0.75,0.30,1.00,0.60,0.40,0.85,0.55,0.70,0.45,
   0.80,0.40,0.95,1.40,1.00,0.50,0.70,0.35,0.80,0.55,0.95,0.65,0.50]
];

// running totals so the random panels are drawn the same way as the others
function runningTotals(perType) {
  const out = [];
  perType.forEach((arr, k) => {
    out.push(arr.map((v, j) => (k ? out[k - 1][j] : 0) + v));
  });
  return out;
}

const panelRows = [
  [uniformTasks, cyclic1Tasks, cyclic2Tasks, runningTotals(randomTasks)],
  [uniformLoad, cyclic1Load, cyclic2Load, runningTotals(randomLoad)]
];

const fontFamily = '"Liberation Sans", Arial, Helvetica, sans-serif';
const textColor = '#262626';
const panelLeft = 100;
const panelWidth = 203.33;
const panelHeight = 127;
const rowTops = [28, 182];

const grid = [];
const xAxis = [];
const yAxis = [];
const series = [];

panelRows.forEach((row, r) => {
  row.forEach((levels, c) => {
    const idx = r * 4 + c;
    grid.push({
      left: panelLeft + c * panelWidth,
      top: rowTops[r],
      width: panelWidth,
      height: panelHeight
    });
    xAxis.push({
      type: 'value',
      gridIndex: idx,
      min: -6.3,
      max: 99.2,
      axisLine: { show: true, onZero: false, lineStyle: { color: '#1a1a1a', width: 1 } },
      axisTick: { show: false },
      splitLine: { show: false },
      axisLabel: {
        show: r === 1,
        customValues: dayTicks,
        margin: 9,
        fontSize: 17,
        fontFamily: fontFamily,
        color: textColor
      }
    });
    yAxis.push({
      type: 'value',
      gridIndex: idx,
      min: 0,
      max: r === 0 ? 1300 : 8,
      axisLine: { show: true, onZero: false, lineStyle: { color: '#666', width: 1 } },
      axisTick: { show: false },
      splitLine: { show: false },
      axisLabel: {
        show: c === 0,
        customValues: r === 0 ? taskTicks : loadTicks,
        formatter: (v) => String(v),
        margin: r === 0 ? 8 : 12,
        fontSize: 17,
        fontFamily: fontFamily,
        color: textColor
      }
    });
    // highest level first so lower task types paint over it
    for (let k = levels.length - 1; k >= 0; k--) {
      const pts = days.map((d, j) => [d, levels[k][j]]);
      series.push({
        name: taskTypes[k],
        type: 'line',
        xAxisIndex: idx,
        yAxisIndex: idx,
        step: 'end',
        symbol: 'none',
        silent: true,
        animation: false,
        data: [[days[0], 0]].concat(pts, [[days[days.length - 1], 0]]),
        lineStyle: { color: '#141414', width: 1 },
        areaStyle: { color: typeColors[k], opacity: 1 },
        itemStyle: { color: typeColors[k] }
      });
    }
  });
});

const graphic = [];
scenarios.forEach((s, c) => {
  graphic.push({
    type: 'text',
    x: panelLeft + c * panelWidth + panelWidth / 2,
    y: 17,
    style: { text: s, font: '17px ' + fontFamily, fill: textColor, align: 'center', verticalAlign: 'middle' }
  });
});
graphic.push({
  type: 'text', x: 28, y: 91, rotation: Math.PI / 2,
  style: { text: 'Number of\ntasks per day', font: '17px ' + fontFamily, fill: textColor,
    align: 'center', verticalAlign: 'middle', lineHeight: 21 }
});
graphic.push({
  type: 'text', x: 29, y: 246, rotation: Math.PI / 2,
  style: { text: 'Average task load\nper employee (days)', font: '17px ' + fontFamily, fill: textColor,
    align: 'center', verticalAlign: 'middle', lineHeight: 21 }
});
graphic.push({
  type: 'text', x: 505, y: 348,
  style: { text: 'Vacation Horizon', font: '17px ' + fontFamily, fill: textColor, align: 'center', verticalAlign: 'middle' }
});
graphic.push({
  type: 'text', x: 927, y: 86,
  style: { text: 'Task\nType', font: '17px ' + fontFamily, fill: textColor, align: 'left', verticalAlign: 'middle', lineHeight: 22 }
});

const chart = echarts.init(document.getElementById('chart'));
chart.setOption({
  animation: false,
  backgroundColor: '#fff',
  grid: grid,
  xAxis: xAxis,
  yAxis: yAxis,
  legend: {
    orient: 'vertical',
    left: 924,
    top: 109,
    itemWidth: 22,
    itemHeight: 18,
    itemGap: 4.4,
    padding: 0,
    icon: 'rect',
    selectedMode: false,
    textStyle: { fontSize: 17, fontFamily: fontFamily, color: textColor, padding: [0, 0, 0, 2] },
    data: taskTypes.map((t, k) => ({
      name: t,
      itemStyle: { color: typeColors[k], borderColor: '#333', borderWidth: 1 }
    }))
  },
  graphic: graphic,
  series: series
});
window.addEventListener('resize', function () {
  chart.resize();
});
</script>
</body>
</html>
